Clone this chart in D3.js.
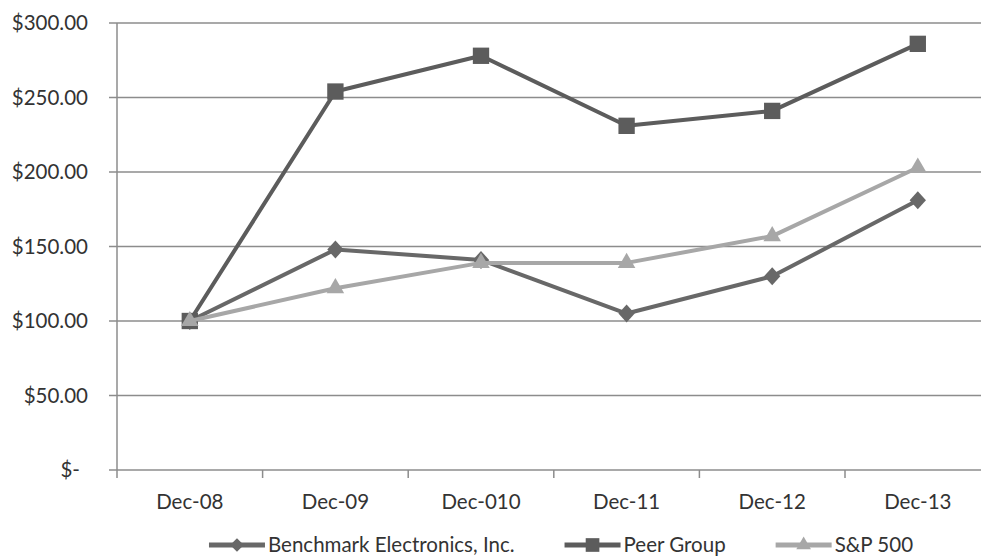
<!DOCTYPE html>
<html>
<head>
<meta charset="utf-8">
<script src="https://cdn.jsdelivr.net/npm/d3@7"></script>
<style>
  html, body { margin: 0; padding: 0; background: #fff; }
  svg { display: block; }
  text { font-family: Lato, "Liberation Sans", sans-serif; fill: #333; }
</style>
</head>
<body>
<svg id="chart" width="981" height="556"></svg>
<script>
// Chart data
const categories = ["Dec-08", "Dec-09", "Dec-010", "Dec-11", "Dec-12", "Dec-13"];
const benchmark = [100, 148, 141, 105, 130, 181];
const peerGroup = [100, 254, 278, 231, 241, 286];
const sp500 = [100, 122, 139, 139, 157, 203];
const yTicks = [0, 50, 100, 150, 200, 250, 300];
const seriesNames = ["Benchmark Electronics, Inc.", "Peer Group", "S&P 500"];

const series = [
  { name: seriesNames[0], values: benchmark, color: "#686868", symbol: d3.symbolDiamond2, size: 170 },
  { name: seriesNames[1], values: peerGroup, color: "#5c5c5c", symbol: d3.symbolSquare2, size: 340 },
  { name: seriesNames[2], values: sp500, color: "#a7a7a7", symbol: d3.symbolTriangle2, size: 220 },
];

const svg = d3.select("#chart");
const width = 981;
const fontSize = "20.5px";

const left = 117, bandW = 145.6;
const x = d3.scaleBand()
  .domain(categories)
  .range([left, left + bandW * categories.length]);

const y = d3.scaleLinear().domain([0, 300]).range([470, 23]);

const gridColor = "#8c8c8c";

// Gridlines + y tick labels
const yAxis = svg.append("g").attr("class", "y-axis");
yAxis.selectAll("line.grid")
  .data(yTicks.filter((d) => d > 0))
  .enter()
  .append("line")
  .attr("class", "grid")
  .attr("x1", left - 8)
  .attr("x2", width + 20)
  .attr("y1", (d) => y(d))
  .attr("y2", (d) => y(d))
  .attr("stroke", gridColor)
  .attr("stroke-width", 1.5);

yAxis.selectAll("text")
  .data(yTicks)
  .enter()
  .append("text")
  .attr("x", (d) => (d === 0 ? 80 : 88))
  .attr("y", (d) => y(d))
  .attr("dy", "0.35em")
  .attr("text-anchor", "end")
  .style("font-size", fontSize)
  .text((d) => (d === 0 ? "$-" : "$" + d3.format(".2f")(d)));

// Axis lines
svg.append("line")
  .attr("x1", left).attr("x2", left)
  .attr("y1", y(300)).attr("y2", y(0) + 8)
  .attr("stroke", gridColor).attr("stroke-width", 1.5);
svg.append("line")
  .attr("x1", left - 8).attr("x2", width + 20)
  .attr("y1", y(0)).attr("y2", y(0))
  .attr("stroke", gridColor).attr("stroke-width", 1.5);

// X tick marks at band boundaries
svg.selectAll("line.xtick")
  .data(categories.slice(1))
  .enter()
  .append("line")
  .attr("class", "xtick")
  .attr("x1", (d) => x(d)).attr("x2", (d) => x(d))
  .attr("y1", y(0)).attr("y2", y(0) + 8)
  .attr("stroke", gridColor).attr("stroke-width", 1.5);

svg.selectAll("text.xlabel")
  .data(categories)
  .enter()
  .append("text")
  .attr("class", "xlabel")
  .attr("x", (d) => x(d) + x.bandwidth() / 2)
  .attr("y", 502)
  .attr("dy", "0.35em")
  .attr("text-anchor", "middle")
  .style("font-size", fontSize)
  .text((d) => d);

// Lines
const line = d3.line()
  .x((d, i) => x(categories[i]) + x.bandwidth() / 2)
  .y((d) => y(d));

series.forEach((s) => {
  const g = svg.append("g").attr("class", "series");
  g.append("path")
    .datum(s.values)
    .attr("d", line)
    .attr("fill", "none")
    .attr("stroke", s.color)
    .attr("stroke-width", 4)
    .attr("stroke-linejoin", "round");
  g.selectAll("path.marker")
    .data(s.values)
    .enter()
    .append("path")
    .attr("class", "marker")
    .attr("d", d3.symbol().type(s.symbol).size(s.size))
    .attr("transform", (d, i) =>
      `translate(${x(categories[i]) + x.bandwidth() / 2},${y(d)})` +
      (s.symbol === d3.symbolDiamond2 ? " scale(1,1.1)" : ""))
    .attr("fill", s.color);
});

// Legend
const legend = svg.append("g").attr("class", "legend");
const swatchW = 56, gap = 3, itemGap = 50;
let cursor = 0;
series.forEach((s) => {
  const item = legend.append("g").attr("transform", `translate(${cursor},0)`);
  item.append("line")
    .attr("x1", 0).attr("x2", swatchW)
    .attr("y1", 0).attr("y2", 0)
    .attr("stroke", s.color).attr("stroke-width", 5);
  item.append("path")
    .attr("d", d3.symbol().type(s.symbol).size(s.size * 0.7))
    .attr("transform", `translate(${swatchW / 2},0)`)
    .attr("fill", s.color);
  const t = item.append("text")
    .attr("x", swatchW + gap)
    .attr("y", 0)
    .attr("dy", "0.35em")
    .style("font-size", fontSize)
    .text(s.name);
  cursor += swatchW + gap + t.node().getComputedTextLength() + itemGap;
});
const legendW = cursor - itemGap;
legend.attr("transform", `translate(${561 - legendW / 2},545)`);
</script>
</body>
</html>
